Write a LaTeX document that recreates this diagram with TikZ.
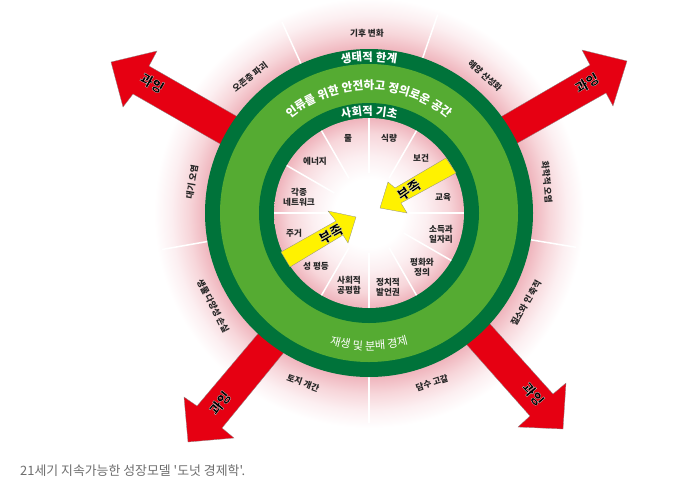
\documentclass[tikz,border=0pt]{standalone}
\usepackage{fontspec}
\newfontfamily\kr{Noto Sans CJK KR}
\newfontfamily\krh[BoldFeatures={FakeBold=1.2}]{Noto Sans CJK KR}
\usetikzlibrary{decorations.text}
\definecolor{pinkA}{HTML}{EFB4BC}
\definecolor{pinkB}{HTML}{F7D6DA}
\definecolor{pinkC}{HTML}{FCEFF1}
\definecolor{dkgreen}{HTML}{00733A}
\definecolor{ltgreen}{HTML}{55AB32}
\definecolor{redarrow}{HTML}{E60012}
\definecolor{yelarrow}{HTML}{FFF200}
\definecolor{captiongray}{HTML}{6E6E6E}
\pgfdeclareradialshading{outerglow}{\pgfpoint{0bp}{0bp}}{color(0bp)=(pinkA);color(19bp)=(pinkA);color(21bp)=(pinkB);color(23bp)=(pinkC);color(25bp)=(white);color(50bp)=(white)}
\pgfdeclareradialshading{innerglow}{\pgfpoint{0bp}{0bp}}{color(0bp)=(white);color(9bp)=(white);color(15bp)=(pinkC);color(21bp)=(pinkB);color(25bp)=(pinkA);color(50bp)=(pinkA)}
\newcommand{\halo}[1]{\special{pdf:code 1 1 1 RG}#1}
\tikzset{
  lab/.style={font=\kr\fontsize{8.6}{10}\selectfont\bfseries,text=black!85,align=center,inner sep=0pt},
  tagtext/.style={font=\krh\fontsize{13.5}{13.5}\selectfont\bfseries,text=black,inner sep=0pt},
  redshape/.style={fill=redarrow,draw=black!45,line width=0.3pt},
  yelshape/.style={fill=yelarrow,draw=black!45,line width=0.3pt},
  spoke/.style={white,line width=1.5pt},
}
\begin{document}
\begin{tikzpicture}[x=1pt,y=-1pt]
\useasboundingbox (0,0) rectangle (690,496);
\fill[white] (0,0) rectangle (690,496);
\coordinate (c) at (369,213);
% outer glow
\shade[shading=outerglow] (c) circle[radius=215];
% outer spokes
\begin{scope}[shift={(369,213)},y=1pt]
\foreach \a in {114.5,70.9,-9.4,-90,190}{
  \draw[spoke] (\a:160) -- (\a:210);
}
\end{scope}
% red arrows
\draw[redshape] (245,121) -- (149,66) -- (157,51) -- (111,62) -- (123,107) -- (133,94) -- (229,149) -- cycle;
\draw[redshape] (492,122) -- (590,65) -- (582,50) -- (627,61) -- (613,106) -- (606,93) -- (507,149) -- cycle;
\draw[redshape] (459,336) -- (530,416) -- (518,427) -- (563,429) -- (566,383) -- (553,394) -- (482,315) -- cycle;
\draw[redshape] (267,323) -- (197,406) -- (184,397) -- (188,442) -- (234,438) -- (222,428) -- (290,345) -- cycle;
% rings
\fill[dkgreen] (c) circle[radius=164];
\fill[ltgreen] (c) circle[radius=149];
\fill[dkgreen] (c) circle[radius=110];
\shade[shading=innerglow] (c) circle[radius=95];
% inner spokes
\begin{scope}[shift={(369,213)},y=1pt]
\foreach \a in {90,120,150,180,60,0,-30,-60,-90,-120}{
  \draw[spoke] (\a:40) -- (\a:95);
}
% curved texts
\path[decorate,decoration={text along path,text align=center,text={|\kr\fontsize{11.4}{11.4}\selectfont\bfseries\color{white}|생태적 한계}}]
  (130:152) arc[start angle=130,end angle=50,radius=152];
\path[decorate,decoration={text along path,text align=center,text={|\kr\fontsize{11.6}{11.6}\selectfont\bfseries\color{white}|인류를 위한 안전하고 정의로운 공간}}]
  (150:123) arc[start angle=150,end angle=30,radius=123];
\path[decorate,decoration={text along path,text align=center,text={|\kr\fontsize{11.4}{11.4}\selectfont\bfseries\color{white}|사회적 기초}}]
  (135:98) arc[start angle=135,end angle=45,radius=98];
\path[decorate,decoration={text along path,text align=center,text={|\kr\fontsize{11.2}{11.2}\selectfont\color{white}|재생 및 분배 경제}}]
  (230:137) arc[start angle=230,end angle=310,radius=137];
\end{scope}
% yellow arrows
\draw[yelshape] (281,252) -- (336,221) -- (328,211) -- (356,217) -- (348,243) -- (343,235) -- (290,267) -- cycle;
\draw[yelshape] (446,158) -- (395,188) -- (388,182) -- (380,208) -- (407,213) -- (401,203) -- (456,173) -- cycle;
% outer labels
\node[lab] (o1) at (367,33) {기후 변화};
\node[lab,rotate=-42] (o2) at (485,76) {해양 산성화};
\node[lab,rotate=-85] (o3) at (547,182) {화학적 오염};
\node[lab,rotate=60] (o4) at (526,303) {질소와 인 축적};
\node[lab,rotate=18] (o5) at (432,383) {담수 고갈};
\node[lab,rotate=-20] (o6) at (303,383) {토지 개간};
\node[lab,rotate=-63] (o7) at (213,306) {생물 다양성 손실};
\node[lab,rotate=80] (o8) at (192,182) {대기 오염};
\node[lab,rotate=38] (o9) at (250,77) {오존층 파괴};
% inner labels
\node[lab] (i1) at (348,138) {물};
\node[lab] (i2) at (389,138) {식량};
\node[lab] (i3) at (421,158) {보건};
\node[lab] (i4) at (443,197) {교육};
\node[lab] (i5) at (441,234) {소득과\\일자리};
\node[lab] (i6) at (422,267) {평화와\\정의};
\node[lab] (i7) at (388,287) {정치적\\발언권};
\node[lab] (i8) at (349,285) {사회적\\공평함};
\node[lab] (i9) at (316,266) {성 평등};
\node[lab] (i10) at (294,233) {주거};
\node[lab] (i11) at (299,197) {각종\\네트워크};
\node[lab] (i12) at (315,161) {에너지};
% arrow labels
\node[tagtext,rotate=-30] (r1) at (152,83) {\halo{과잉}};
\node[tagtext,rotate=30] (r2) at (587,83) {\halo{과잉}};
\node[tagtext,rotate=-50] (r3) at (533,394) {\halo{과잉}};
\node[tagtext,rotate=52] (r4) at (220,403) {\halo{과잉}};
\node[tagtext,rotate=35] (y1) at (409,190) {\halo{부족}};
\node[tagtext,rotate=30] (y2) at (331,234) {\halo{부족}};
% caption
\node[anchor=west,inner sep=0pt,font=\kr\fontsize{12.9}{12.9}\selectfont,text=captiongray] (cap) at (20,471) {21세기 지속가능한 성장모델 '도넛 경제학'.};
\end{tikzpicture}
\end{document}
